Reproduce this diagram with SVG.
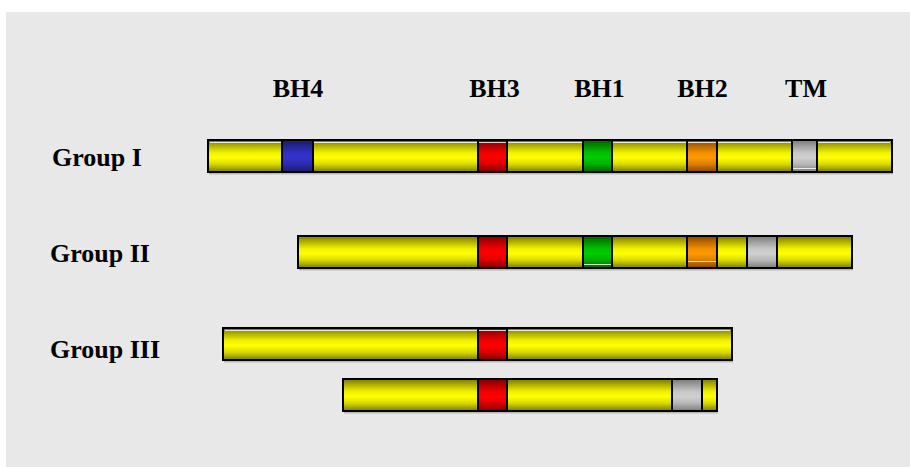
<svg xmlns="http://www.w3.org/2000/svg" width="910" height="467" viewBox="0 0 910 467">
<defs>
<linearGradient id="gY" x1="0" y1="0" x2="0" y2="1">
<stop offset="0" stop-color="#7a7a00"/><stop offset="0.4" stop-color="#f2f200"/><stop offset="0.55" stop-color="#ffff00"/><stop offset="0.75" stop-color="#dada00"/><stop offset="1" stop-color="#7a7a00"/>
</linearGradient>
<linearGradient id="gR" x1="0" y1="0" x2="0" y2="1">
<stop offset="0" stop-color="#800000"/><stop offset="0.4" stop-color="#f20000"/><stop offset="0.55" stop-color="#ff0000"/><stop offset="0.75" stop-color="#da0000"/><stop offset="1" stop-color="#800000"/>
</linearGradient>
<linearGradient id="gB" x1="0" y1="0" x2="0" y2="1">
<stop offset="0" stop-color="#1a1a66"/><stop offset="0.4" stop-color="#3030c4"/><stop offset="0.55" stop-color="#3333cc"/><stop offset="0.75" stop-color="#2c2cb0"/><stop offset="1" stop-color="#1a1a66"/>
</linearGradient>
<linearGradient id="gG" x1="0" y1="0" x2="0" y2="1">
<stop offset="0" stop-color="#006000"/><stop offset="0.4" stop-color="#00c200"/><stop offset="0.55" stop-color="#00cc00"/><stop offset="0.75" stop-color="#00b000"/><stop offset="1" stop-color="#006000"/>
</linearGradient>
<linearGradient id="gO" x1="0" y1="0" x2="0" y2="1">
<stop offset="0" stop-color="#884400"/><stop offset="0.4" stop-color="#f29000"/><stop offset="0.55" stop-color="#ff9900"/><stop offset="0.75" stop-color="#da8000"/><stop offset="1" stop-color="#884400"/>
</linearGradient>
<linearGradient id="gS" x1="0" y1="0" x2="0" y2="1">
<stop offset="0" stop-color="#7a7a7a"/><stop offset="0.4" stop-color="#c8c8c8"/><stop offset="0.55" stop-color="#d0d0d0"/><stop offset="0.75" stop-color="#b8b8b8"/><stop offset="1" stop-color="#7a7a7a"/>
</linearGradient>
</defs>
<style>
.bar{stroke:#000;stroke-width:2;fill:url(#gY)}
.seg{stroke:#000;stroke-width:2}
.r{fill:url(#gR)}.b{fill:url(#gB)}.g{fill:url(#gG)}.o{fill:url(#gO)}.s{fill:url(#gS)}
.hl{stroke:#ffffff;stroke-width:1;opacity:0.8}
.sh{fill:#b8b8b8}
text{font-family:"Liberation Serif","Times New Roman",serif;font-weight:bold;font-size:26px;fill:#000}
.lbl{text-anchor:middle}
</style>
<rect x="6" y="12" width="904" height="455" fill="#e8e8e8"/>
<g id="labels">
<text class="lbl" x="298" y="97">BH4</text>
<text class="lbl" x="494.5" y="97">BH3</text>
<text class="lbl" x="599.5" y="97">BH1</text>
<text class="lbl" x="702.5" y="97">BH2</text>
<text class="lbl" x="806" y="97">TM</text>
</g>
<g id="group1">
<text x="52" y="166">Group I</text>
<rect class="sh" x="209" y="173" width="684" height="1.5"/>
<rect class="bar" x="208" y="140" width="684" height="32"/>
<line class="hl" x1="210" y1="142.5" x2="890" y2="142.5"/>
<rect class="seg b" x="282" y="140" width="31" height="32"/>
<rect class="seg r" x="478" y="140" width="29" height="32"/>
<rect class="seg g" x="583" y="140" width="29" height="32"/>
<rect class="seg o" x="687" y="140" width="30" height="32"/>
<rect class="seg s" x="792" y="140" width="25" height="32"/>
<line class="hl" x1="479" y1="142.5" x2="506" y2="142.5"/>
<line class="hl" x1="688" y1="142.5" x2="716" y2="142.5"/>
<line class="hl" x1="793" y1="168.5" x2="816" y2="168.5"/>
</g>
<g id="group2">
<text x="50" y="262">Group II</text>
<rect class="sh" x="299" y="269" width="554" height="1.5"/>
<rect class="bar" x="298" y="236" width="554" height="32"/>
<rect class="seg r" x="478" y="236" width="29" height="32"/>
<rect class="seg g" x="583" y="236" width="29" height="32"/>
<rect class="seg o" x="687" y="236" width="30" height="32"/>
<rect class="seg s" x="747" y="236" width="30" height="32"/>
<line class="hl" x1="584" y1="264.5" x2="611" y2="264.5"/>
<line class="hl" x1="688" y1="261.5" x2="716" y2="261.5"/>
</g>
<g id="group3a">
<text x="50" y="358">Group III</text>
<rect class="sh" x="224" y="361" width="509" height="1.5"/>
<rect class="bar" x="223" y="328" width="509" height="32"/>
<line class="hl" x1="225" y1="330.5" x2="730" y2="330.5"/>
<rect class="seg r" x="478" y="328" width="29" height="32"/>
<line class="hl" x1="479" y1="330.5" x2="506" y2="330.5"/>
</g>
<g id="group3b">
<rect class="sh" x="344" y="412" width="374" height="1.5"/>
<rect class="bar" x="343" y="379" width="374" height="32"/>
<rect class="seg r" x="478" y="379" width="29" height="32"/>
<rect class="seg s" x="672" y="379" width="30" height="32"/>
</g>
<g id="connectors"/>
</svg>
